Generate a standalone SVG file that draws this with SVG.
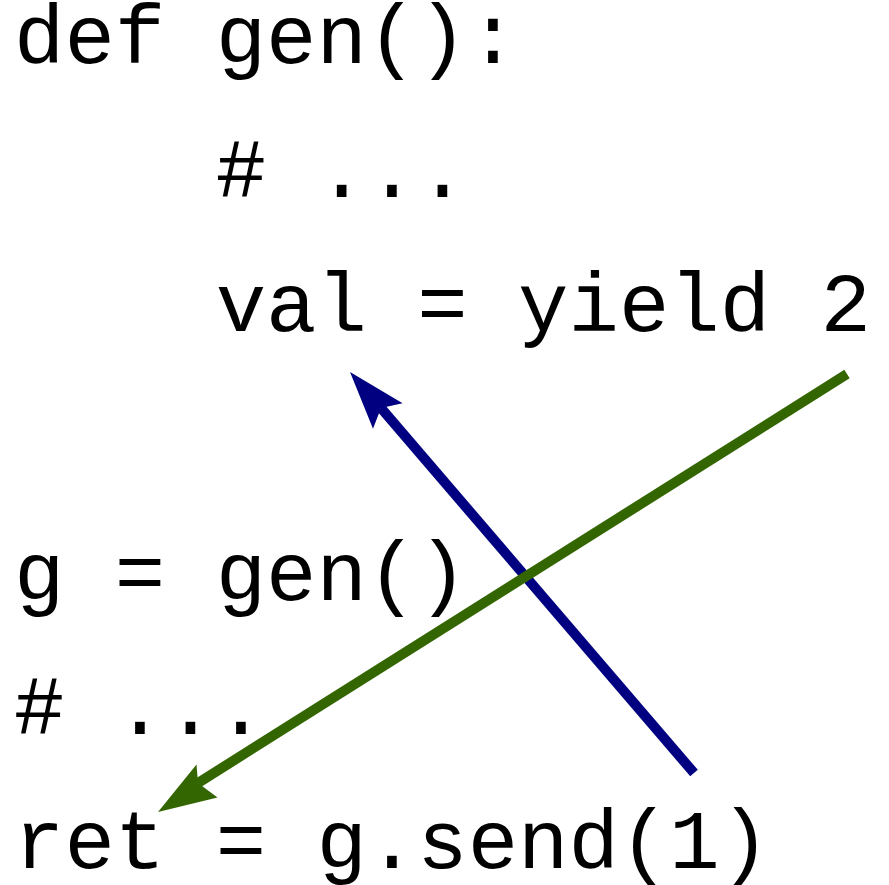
<svg xmlns="http://www.w3.org/2000/svg" width="889" height="885" viewBox="0 0 889 885">
<style>
text{font-family:"Courier New","Liberation Mono",monospace;font-size:84px;fill:#000;white-space:pre}
</style>
<rect width="889" height="885" fill="#fff"/>
<g id="code">
<text x="14" y="63" xml:space="preserve">def gen():</text>
<text x="14" y="197" xml:space="preserve">    # ...</text>
<text x="14" y="331" xml:space="preserve">    val = yield 2</text>
<text x="14" y="600" xml:space="preserve">g = gen()</text>
<text x="14" y="734" xml:space="preserve"># ...</text>
<text x="14" y="868" xml:space="preserve">ret = g.send(1)</text>
</g>
<g id="connectors">
<g id="send-arrow">
<path d="M694,773 L381,408" stroke="#000080" stroke-width="10" fill="none"/>
<polygon points="350,372 402.6,403.3 381,408 373,428.7" fill="#000080"/>
</g>
<g id="yield-arrow">
<path d="M847,374 L198,783" stroke="#336600" stroke-width="10" fill="none"/>
<polygon points="158,812 196.5,764.4 198,783 217.5,797.4" fill="#336600"/>
</g>
</g>
</svg>
